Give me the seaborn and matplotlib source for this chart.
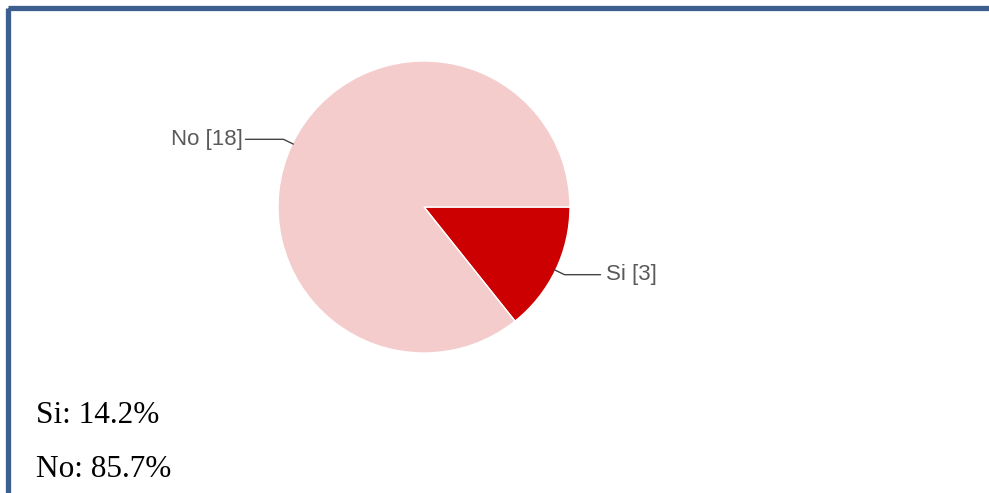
import numpy as np
import matplotlib
matplotlib.use("Agg")
import matplotlib.pyplot as plt
import seaborn as sns
from matplotlib.patches import Rectangle

# Datos de la encuesta
respuestas = ["Si", "No"]
conteos = [3, 18]
porcentajes = ["14.2%", "85.7%"]
colores = ["#cc0000", "#f4cccc"]

sns.set_theme(style="white")

fig = plt.figure(figsize=(9.89, 4.93), dpi=100)
ax = fig.add_axes([0, 0, 1, 1])

# Marco azul (solo lados superior e izquierdo visibles)
ax.add_patch(Rectangle((7.5, 7.5), 1200, 700, fill=False, edgecolor="#3d5f8f",
                       linewidth=3.8, clip_on=True))

# Pastel
cx, cy, r = 424, 207, 146
wedges, _ = ax.pie(conteos, colors=colores, startangle=0, counterclock=True,
                   center=(cx, cy), radius=r, frame=True,
                   wedgeprops=dict(edgecolor="white", linewidth=1))
ax.set_xlim(0, 989)
ax.set_ylim(493, 0)
ax.set_aspect("equal")
ax.axis("off")

# Etiquetas con lineas guia
for w, resp, n in zip(wedges, respuestas, conteos):
    ang = np.deg2rad((w.theta1 + w.theta2) / 2)
    # eje y invertido: el pastel se dibuja reflejado
    dx, dy = np.cos(ang), np.sin(ang)
    x0, y0 = cx + (r - 1) * dx, cy + (r - 1) * dy
    x1, y1 = cx + (r + 10) * dx, cy + (r + 10) * dy
    if dx < 0:
        x2 = x1 - 38
        ax.text(x2 - 3, y1, f"{resp} [{n}]", ha="right", va="center",
                fontsize=16, color="#5a5a5a", family="Liberation Sans")
    else:
        x2 = x1 + 36
        ax.text(x2 + 5, y1, f"{resp} [{n}]", ha="left", va="center",
                fontsize=16, color="#5a5a5a", family="Liberation Sans")
    ax.plot([x0, x1, x2], [y0, y1, y1], color="#444444", linewidth=1)

# Porcentajes al pie
for i, (resp, p) in enumerate(zip(respuestas, porcentajes)):
    ax.text(36, 423 + i * 54, f"{resp}: {p}", ha="left", va="baseline",
            fontsize=22.5, color="black", family="Liberation Serif")

fig.savefig("out.png", dpi=100)
